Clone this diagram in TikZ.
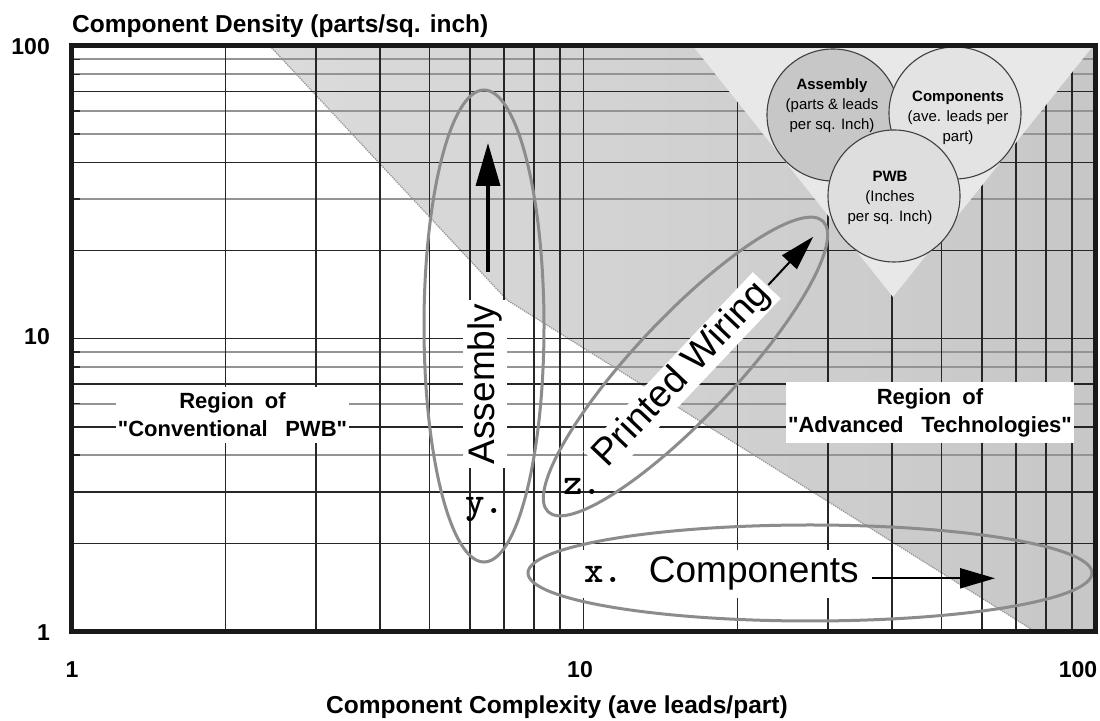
\documentclass[tikz,border=0pt]{standalone}
\usepackage{fontspec}
\setmainfont{Liberation Sans}
\newfontfamily\quotefont{Liberation Sans}
\usetikzlibrary{arrows.meta,positioning,calc}

\newcommand{\qmark}{{\quotefont\symbol{34}}}

\tikzset{
  gridblack/.style={black!85, line width=1.5bp},
  gridgray/.style={black!42, line width=2.2bp},
  ovalline/.style={black!45, line width=3bp},
  bubble/.style={circle, draw=black!75, line width=1.1bp, minimum size=132bp, inner sep=0pt},
  bubbletext/.style={align=center, inner sep=0pt, font=\fontsize{15bp}{20bp}\selectfont},
  whitelabel/.style={fill=white, inner sep=2bp, align=center},
  regionfont/.style={font=\bfseries\fontsize{22bp}{28bp}\selectfont},
  markfont/.style={font=\ttfamily\bfseries\fontsize{37bp}{40bp}\selectfont},
  ticklabel/.style={inner sep=0pt, font=\bfseries\fontsize{23bp}{26bp}\selectfont},
  axistitle/.style={inner sep=0pt, font=\bfseries\fontsize{24.5bp}{28bp}\selectfont},
  bigarrow/.style={-{Triangle[length=43bp,width=24bp]}, line width=3.5bp},
  smallarrow/.style={-{Triangle[length=35bp,width=20bp]}, line width=2bp},
}

\begin{document}
\begin{tikzpicture}[x=1bp,y=1bp]
  \path[use as bounding box, fill=white] (-71.5,-89.5) rectangle (1028.5,631.5);

  % region of advanced technologies
  \coordinate (edge_top) at (198.5,585.5);
  \coordinate (edge_knee) at (435.5,331.5);
  \coordinate (edge_bottom) at (963.5,0);
  \shade[left color=black!14, right color=black!22]
    (edge_top) -- (edge_knee) -- (edge_bottom) -- (1024,0) -- (1024,585.5) -- cycle;
  \draw[black!40, densely dotted, line width=1.3bp] (edge_top) -- (edge_knee) -- (edge_bottom);

  % log grid
  \draw[gridgray]
    (0,176.3) -- ++(1024,0)  (0,227.8) -- ++(1024,0)
    (0,264.4) -- ++(1024,0)  (0,279.4) -- ++(1024,0)
    (0,432.4) -- ++(1024,0)  (0,497.4) -- ++(1024,0)
    (0,520.6) -- ++(1024,0)  (0,557.1) -- ++(1024,0)
    (0,572.1) -- ++(1024,0);
  \draw[gridblack]
    (0,176.3) -- ++(9,0)  (0,227.8) -- ++(9,0)  (0,264.4) -- ++(9,0)
    (0,279.4) -- ++(9,0)  (0,432.4) -- ++(9,0)  (0,497.4) -- ++(9,0)
    (0,520.6) -- ++(9,0)  (0,557.1) -- ++(9,0)  (0,572.1) -- ++(9,0);
  \draw[gridblack]
    (0,88.1) -- ++(1024,0)   (0,139.7) -- ++(1024,0)
    (0,204.6) -- ++(1024,0)  (0,247.4) -- ++(1024,0)
    (0,292.75) -- ++(1024,0) (0,380.9) -- ++(1024,0)
    (0,469.0) -- ++(1024,0)  (0,540.2) -- ++(1024,0);
  \draw[gridblack]
    (154.1,0) -- ++(0,585.5)  (244.3,0) -- ++(0,585.5)
    (308.3,0) -- ++(0,585.5)  (357.9,0) -- ++(0,585.5)
    (398.4,0) -- ++(0,585.5)  (432.7,0) -- ++(0,585.5)
    (462.4,0) -- ++(0,585.5)  (488.6,0) -- ++(0,585.5)
    (512,0) -- ++(0,585.5)    (666.1,0) -- ++(0,585.5)
    (756.3,0) -- ++(0,585.5)  (820.3,0) -- ++(0,585.5)
    (869.9,0) -- ++(0,585.5)  (910.4,0) -- ++(0,585.5)
    (944.7,0) -- ++(0,585.5)  (974.4,0) -- ++(0,585.5)
    (1000.6,0) -- ++(0,585.5);

  % legend triangle
  \coordinate (tri_left) at (621.5,585.5);
  \coordinate (tri_right) at (1021.5,585.5);
  \coordinate (tri_bottom) at (821.5,334.5);
  \fill[black!9] (tri_left) -- (tri_right) -- (tri_bottom) -- cycle;

  \node[bubble, fill=black!22] (asm_circle) at (761.5,516.5) {};
  \node[bubble, fill=black!11] (comp_circle) at (883.5,518.5) {};
  \node[bubble, fill=black!13] (pwb_circle) at (822.5,435.5) {};
  \node[bubbletext] (asm_text) at ($(asm_circle)+(-1,9)$)
    {\textbf{Assembly}\\(parts \& leads\\per sq. Inch)};
  \node[bubbletext] (comp_text) at ($(comp_circle)+(3,-5)$)
    {\textbf{Components}\\(ave. leads per\\part)};
  \node[bubbletext] (pwb_text) at ($(pwb_circle)+(-4,-2)$)
    {\textbf{PWB}\\(Inches\\per sq. Inch)};

  % technology ellipses
  \draw[ovalline] (412.5,305.5) ellipse [x radius=60, y radius=236];
  \draw[ovalline] (614,265) ellipse [x radius=200, y radius=50, rotate=46.6];
  \draw[ovalline] (738.5,58.5) ellipse [x radius=282, y radius=48];

  \node[whitelabel, regionfont, inner xsep=2bp, inner ysep=6bp] (conv_region) at (161,216.5)
    {Region\enspace of\\\qmark Conventional\hspace{0.8em}PWB\qmark};
  \node[whitelabel, regionfont, inner xsep=2bp, inner ysep=6bp] (adv_region) at (858.5,219)
    {Region\enspace of\\\qmark Advanced\hspace{0.8em}Technologies\qmark};

  \node[whitelabel, rotate=90, inner xsep=4bp, inner ysep=5bp,
        font=\fontsize{37bp}{40bp}\selectfont] (asm_label) at (413.5,247.5) {Assembly};
  \node[whitelabel, rotate=46.6, inner xsep=4bp, inner ysep=1.5bp,
        font=\fontsize{38bp}{40bp}\selectfont] (pw_label) at (610.5,256.5) {Printed Wiring};
  \node[whitelabel, anchor=base west, inner xsep=1bp, inner ysep=7bp,
        font=\fontsize{37bp}{40bp}\selectfont] (comp_label) at (511.5,48.5)
    {{\ttfamily\bfseries x. }Components};
  \node[markfont, anchor=base west, inner sep=0pt] (y_mark) at (393.5,117.5) {y.};
  \node[markfont, anchor=base west, inner sep=0pt] (z_mark) at (491.5,136.5) {z.};

  \coordinate (asm_tail) at (416.5,359.5);
  \coordinate (asm_tip) at (416.5,488.5);
  \draw[bigarrow] (asm_tail) -- (asm_tip);
  \coordinate (pw_tail) at (696.8,346.5);
  \coordinate (pw_tip) at (741.8,394.8);
  \draw[smallarrow] (pw_tail) -- (pw_tip);
  \coordinate (comp_tail) at (800.2,53.2);
  \coordinate (comp_tip) at (923.5,53.2);
  \draw[smallarrow] (comp_tail) -- (comp_tip);

  % frame
  \draw[black!90, line width=5bp] (0,0) rectangle (1024,585.5);

  \node[ticklabel, anchor=east] (y_100) at (-21.5,585) {100};
  \node[ticklabel, anchor=east] (y_10) at (-21.5,294.5) {10};
  \node[ticklabel, anchor=east] (y_1) at (-21.5,-1) {1};
  \node[ticklabel] (x_1) at (0.5,-38.5) {1};
  \node[ticklabel] (x_10) at (508.5,-38.5) {10};
  \node[ticklabel] (x_100) at (1006.5,-38.5) {100};

  \node[axistitle, anchor=base west] (y_title) at (0.5,598.5) {Component Density (parts/sq. inch)};
  \node[axistitle, anchor=base] (x_title) at (485.5,-82.5) {Component Complexity (ave leads/part)};
\end{tikzpicture}
\end{document}
